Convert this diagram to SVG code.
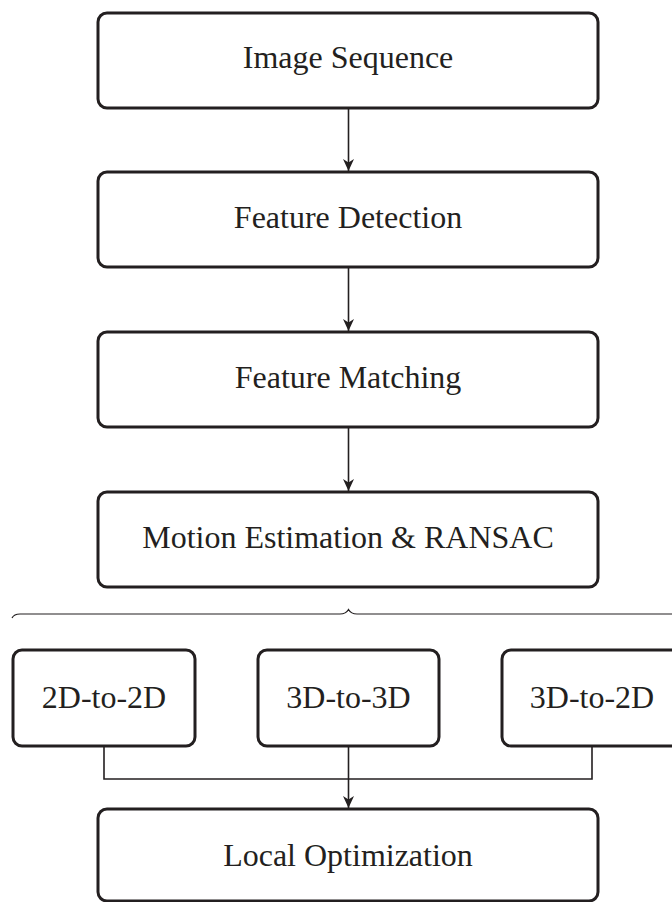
<svg xmlns="http://www.w3.org/2000/svg" width="672" height="902" viewBox="0 0 672 902">
  <style>
    .box { fill: #ffffff; stroke: #231f20; stroke-width: 3; }
    .lbl { font-family: "Liberation Serif", "Times New Roman", serif; font-size: 32px; fill: #231f20; text-anchor: middle; }
    .wire { fill: none; stroke: #231f20; stroke-width: 1.6; }
    .brace { fill: none; stroke: #231f20; stroke-width: 1.2; }
  </style>
  <defs>
    <marker id="arrow" viewBox="0 0 12 12" refX="12" refY="6" markerWidth="12" markerHeight="12" markerUnits="userSpaceOnUse" orient="auto">
      <path d="M0,0.5 L12,6 L0,11.5 L3.5,6 Z" fill="#231f20"/>
    </marker>
  </defs>

  <rect width="672" height="902" fill="#ffffff"/>

  <g id="image-sequence">
    <rect class="box" x="98" y="13" width="500" height="95" rx="9"/>
    <text class="lbl" x="348" y="68">Image Sequence</text>
  </g>
  <g id="feature-detection">
    <rect class="box" x="98" y="172" width="500" height="95" rx="9"/>
    <text class="lbl" x="348" y="228">Feature Detection</text>
  </g>
  <g id="feature-matching">
    <rect class="box" x="98" y="332" width="500" height="95" rx="9"/>
    <text class="lbl" x="348" y="388">Feature Matching</text>
  </g>
  <g id="motion-estimation">
    <rect class="box" x="98" y="492" width="500" height="95" rx="9"/>
    <text class="lbl" x="348" y="548">Motion Estimation &amp; RANSAC</text>
  </g>

  <g id="case-2d-2d">
    <rect class="box" x="13" y="650" width="182" height="96" rx="9"/>
    <text class="lbl" x="104" y="708">2D-to-2D</text>
  </g>
  <g id="case-3d-3d">
    <rect class="box" x="258" y="650" width="181" height="96" rx="9"/>
    <text class="lbl" x="348.5" y="708">3D-to-3D</text>
  </g>
  <g id="case-3d-2d">
    <rect class="box" x="502" y="650" width="181" height="96" rx="9"/>
    <text class="lbl" x="592" y="708">3D-to-2D</text>
  </g>

  <g id="local-optimization">
    <rect class="box" x="98" y="809" width="500" height="92" rx="9"/>
    <text class="lbl" x="348" y="866">Local Optimization</text>
  </g>

  <g id="connectors">
    <line class="wire" x1="348.5" y1="108" x2="348.5" y2="171" marker-end="url(#arrow)"/>
    <line class="wire" x1="348.5" y1="267" x2="348.5" y2="331" marker-end="url(#arrow)"/>
    <line class="wire" x1="348.5" y1="427" x2="348.5" y2="491" marker-end="url(#arrow)"/>
    <path class="brace" d="M12,618 Q14,614 20,614 L340,614 Q346,614 348.5,609.5 Q351,614 357,614 L677,614 Q683,614 685,618"/>
    <path class="wire" d="M104,746 V779 H592 V746"/>
    <line class="wire" x1="348.5" y1="746" x2="348.5" y2="808" marker-end="url(#arrow)"/>
  </g>
</svg>
